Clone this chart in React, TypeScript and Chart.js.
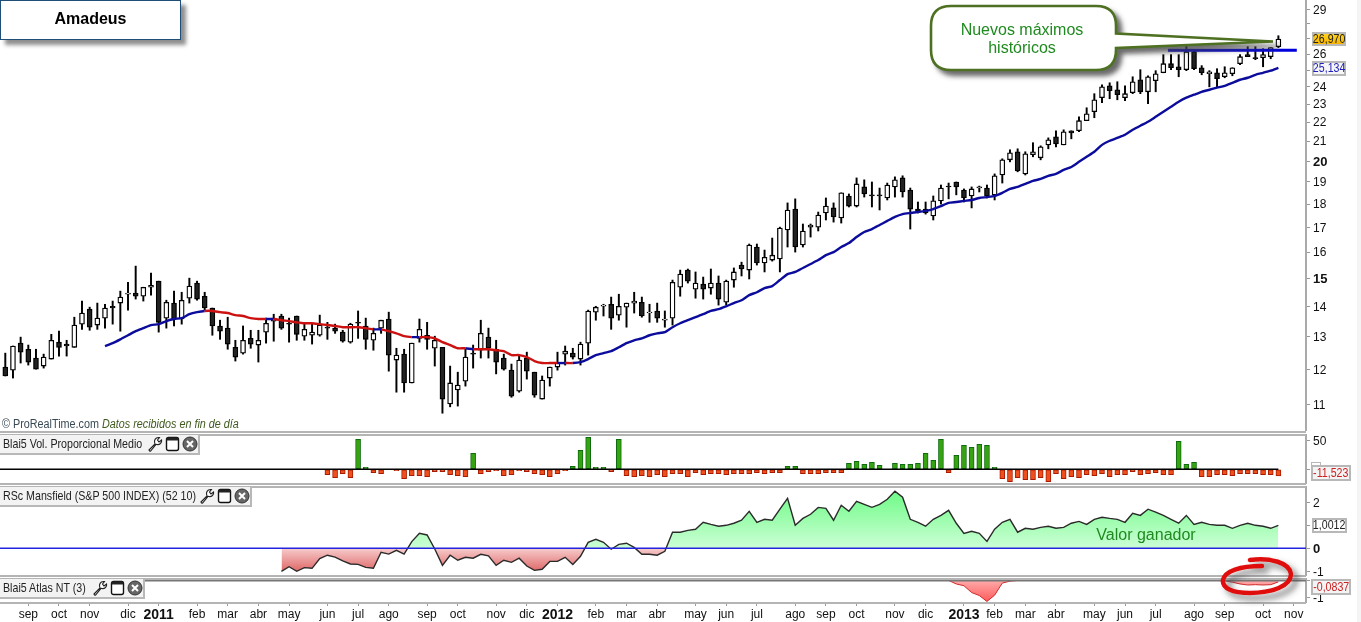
import React, { useEffect, useRef } from "react";
import { Chart, registerables } from "chart.js";

Chart.register(...registerables);

const opens = [12.07,11.98,12.80,12.61,12.34,12.10,12.31,12.83,12.77,12.67,13.41,13.91,13.38,13.61,14.01,14.12,14.43,14.47,14.36,14.68,14.90,13.61,14.12,13.58,14.29,14.83,14.36,13.95,13.35,13.28,12.67,12.49,12.95,12.74,13.15,13.51,13.68,13.44,13.68,13.02,13.05,13.05,13.31,13.28,13.15,12.83,13.47,13.35,12.89,13.28,13.58,12.28,12.46,11.61,12.95,13.05,12.64,12.67,11.03,11.41,11.66,12.49,12.58,12.99,12.61,12.34,11.98,11.38,12.34,11.92,11.16,11.75,12.07,12.46,12.49,12.31,12.80,13.81,14.01,14.08,13.71,13.98,14.12,14.15,13.78,13.85,13.54,13.61,14.68,15.31,14.61,14.79,14.65,14.83,14.15,14.94,15.50,15.31,16.20,15.58,15.69,15.73,16.89,17.78,16.28,17.01,17.01,17.61,17.83,17.40,18.36,17.91,18.77,18.41,18.41,18.27,18.77,19.19,18.63,17.78,17.78,17.48,18.14,18.81,19.00,18.63,18.36,18.72,18.72,18.41,19.33,20.06,20.46,19.38,20.31,20.16,20.81,21.22,20.81,21.54,21.54,22.08,22.57,23.36,24.05,23.82,23.36,23.65,24.41,23.70,24.35,24.83,25.39,25.20,25.02,26.15,25.14,24.77,24.83,24.59,24.77,25.39,25.96,25.77,25.77,25.83,26.47];
const closes = [11.81,12.71,12.52,12.22,12.01,12.37,12.89,12.67,12.71,13.38,13.78,13.31,13.61,13.95,13.95,14.33,14.47,14.36,14.68,14.75,13.47,14.15,13.58,14.22,14.72,14.26,13.95,13.35,13.18,12.77,12.37,12.89,12.77,12.89,13.44,13.61,13.28,13.41,13.08,13.24,13.15,13.38,13.28,13.18,12.86,13.41,13.44,12.92,13.11,13.54,12.43,12.43,11.61,12.80,13.24,12.92,12.89,11.16,11.61,11.55,12.37,12.46,13.11,12.64,12.22,12.01,11.24,12.28,11.95,11.27,11.69,12.07,12.19,12.55,12.37,12.77,13.85,13.98,14.05,13.61,14.01,14.12,14.19,13.68,13.81,13.61,13.58,14.86,15.16,14.90,14.83,14.61,14.83,14.26,14.90,15.24,15.35,16.28,15.58,15.80,15.88,16.97,17.74,16.20,16.85,17.10,17.52,17.91,17.44,18.50,17.91,18.91,18.45,18.36,18.36,18.86,19.10,18.54,17.78,17.70,17.61,18.14,18.72,18.77,18.77,18.27,18.68,18.77,18.36,19.29,20.06,20.41,19.52,20.36,20.46,20.71,21.07,20.86,21.49,21.43,22.08,22.46,23.24,23.99,23.76,23.53,23.59,24.29,23.70,24.59,24.77,25.39,25.14,25.02,26.15,25.08,24.83,24.89,24.47,24.83,25.14,25.83,25.83,25.70,25.96,26.41,26.97];
const highs = [12.49,12.71,12.99,12.74,12.61,12.46,13.08,13.18,12.89,13.64,14.19,13.98,14.12,14.08,14.19,14.54,14.86,15.46,14.68,15.20,14.90,14.22,14.54,14.50,15.01,14.90,14.50,13.95,13.54,13.64,12.89,13.35,13.21,13.21,13.61,13.74,13.74,13.61,13.68,13.44,13.41,13.71,13.47,13.41,13.21,13.44,13.85,13.61,13.28,13.54,13.81,12.64,12.61,12.80,13.58,13.47,13.02,12.67,12.10,11.92,12.61,12.74,13.54,13.28,12.89,12.46,12.16,12.40,12.52,11.92,11.81,12.07,12.52,12.71,12.64,12.83,13.88,14.01,14.08,14.33,14.43,14.12,14.50,14.33,14.08,14.12,13.85,14.94,15.31,15.35,15.24,15.05,15.35,15.09,14.94,15.39,15.61,16.32,16.32,16.08,16.56,17.01,18.05,18.23,17.14,17.14,17.65,18.27,18.05,18.50,18.45,19.19,19.10,19.00,18.72,18.95,19.24,19.29,18.72,18.09,18.09,18.36,18.86,18.95,19.00,18.68,18.77,18.81,18.86,19.38,20.11,20.56,20.61,20.46,20.92,20.76,21.17,21.54,21.59,21.54,22.29,22.79,23.59,24.11,24.23,24.29,24.05,24.59,25.02,24.65,24.96,25.96,25.96,25.96,26.67,26.28,25.27,24.96,25.08,25.20,25.14,25.96,26.47,26.47,26.34,26.41,27.19];
const lows = [11.81,11.75,12.19,12.13,12.01,12.04,12.31,12.40,12.40,12.67,13.24,13.21,13.24,13.28,13.41,13.18,13.88,14.26,14.19,14.40,13.15,13.28,13.35,13.41,14.12,14.22,13.88,13.05,12.92,12.61,12.25,12.46,12.64,12.22,12.80,12.86,13.24,12.83,12.89,12.89,12.77,13.02,12.92,13.11,12.83,12.80,12.95,12.61,12.58,13.11,11.95,11.35,11.35,11.61,12.83,12.61,12.10,10.78,10.95,10.97,11.52,12.04,12.34,12.34,11.87,11.98,11.21,11.35,11.72,11.21,11.16,11.52,11.98,12.13,12.31,12.13,12.43,13.54,13.68,13.24,13.54,13.31,13.78,13.64,13.47,13.47,13.31,13.38,14.36,14.83,14.29,14.26,14.43,14.05,14.05,14.68,15.09,14.98,15.50,15.24,15.65,15.24,16.20,16.00,16.20,16.60,16.85,17.31,17.22,17.18,17.87,17.87,18.31,17.87,17.74,18.18,18.31,18.31,16.93,17.61,17.56,17.31,18.00,18.23,18.41,18.09,17.83,18.54,18.27,18.18,18.95,19.96,19.48,19.33,20.21,20.06,20.61,20.71,20.81,21.12,21.49,22.08,22.24,23.07,23.30,23.24,23.19,23.59,23.59,23.02,23.70,24.83,25.02,24.59,24.96,25.02,24.71,23.99,23.94,24.53,24.65,25.33,25.83,25.64,25.20,25.70,26.41];

const maStart = 13;
const maValues = [12.71,12.80,12.92,13.05,13.18,13.28,13.38,13.41,13.51,13.58,13.61,13.74,13.81,13.85,13.85,13.81,13.78,13.71,13.68,13.61,13.58,13.58,13.58,13.54,13.51,13.47,13.44,13.44,13.41,13.38,13.35,13.31,13.31,13.31,13.28,13.24,13.24,13.18,13.11,13.02,12.99,12.99,12.99,12.95,12.83,12.74,12.64,12.64,12.61,12.61,12.61,12.58,12.55,12.43,12.43,12.37,12.25,12.19,12.19,12.19,12.19,12.19,12.22,12.31,12.43,12.49,12.55,12.67,12.80,12.89,12.95,13.05,13.11,13.15,13.31,13.44,13.54,13.64,13.74,13.85,13.91,14.01,14.12,14.22,14.40,14.50,14.65,14.72,14.94,15.16,15.24,15.39,15.54,15.69,15.88,16.00,16.20,16.36,16.60,16.81,16.93,17.10,17.27,17.44,17.56,17.61,17.65,17.70,17.78,17.91,18.05,18.09,18.14,18.18,18.27,18.31,18.36,18.50,18.68,18.77,18.91,19.05,19.14,19.29,19.38,19.57,19.71,19.96,20.21,20.46,20.81,21.02,21.17,21.33,21.59,21.81,22.02,22.29,22.57,22.85,23.13,23.36,23.53,23.70,23.82,23.94,24.05,24.23,24.41,24.53,24.71,24.83,24.96,25.134];
const maRedRanges = [[26, 33], [35, 47], [49, 52], [54, 59], [61, 71], [73, 73]];

const resistancePrice = 26.24;
const resistanceFrom = 151.6;
const resistanceTo = 168.4;

const volStart = 42;
const volValues = [-9.4,-14.7,-7.6,-14.7,52.9,3.5,-5.9,-7.6,0,-2.4,-16.5,-11.2,-11.2,-12.9,-4.1,-4.1,-9.4,-11.2,-12.9,28.2,-7.6,-4.1,-2.4,-11.2,-9.4,-2.4,-4.1,-7.6,-9.4,-12.9,-7.6,-2.4,5.3,33.5,56.4,3.5,3.5,-4.1,52.9,-11.2,-12.9,-11.2,-12.9,-9.4,-12.9,-7.6,-7.6,-12.9,-5.9,-9.4,-7.6,-7.6,-9.4,-7.6,-7.6,-7.6,-5.9,-7.6,-5.9,-5.9,5.3,5.3,-7.6,-7.6,-7.6,-5.9,-5.9,-5.9,10.6,14.1,8.8,12.3,7.1,0,10.6,8.8,8.8,10.6,28.2,15.9,52.9,-5.9,24.7,42.3,38.8,44.1,42.3,3.5,-16.5,-21.8,-14.7,-18.2,-18.2,-14.7,-21.8,-7.6,-16.5,-12.9,-14.7,-9.4,-11.2,-7.6,-12.9,-9.4,-9.4,-4.1,-9.4,-7.6,-5.9,-9.4,-9.4,49.4,8.8,12.3,-12.9,-12.9,-9.4,-9.4,-11.2,-7.6,-7.6,-7.6,-9.4,-9.4,-11.52];

const rscStart = 36;
const rscValues = [-1.0,-0.80,-1.0,-0.84,-0.87,-0.45,-0.30,-0.38,-0.55,-0.68,-0.70,-0.83,-0.87,-0.17,-0.25,-0.09,-0.25,0.29,0.65,0.58,-0.03,-0.74,-0.30,-0.52,-0.39,-0.43,-0.26,-0.33,-0.74,-0.52,-0.61,-0.43,-0.77,-0.96,-0.91,-0.57,-0.57,-0.39,-0.70,-0.35,0.26,0.39,0.26,-0.04,0.17,0.22,0.04,-0.26,-0.26,-0.30,-0.13,0.70,0.70,0.78,0.83,1.13,1.04,0.96,1.00,1.09,1.22,1.61,1.13,1.26,1.22,1.70,2.17,1.00,1.30,1.48,1.78,1.74,1.22,1.87,1.61,2.04,1.91,1.78,1.91,2.13,2.48,2.22,1.26,1.13,0.96,1.26,1.43,1.65,1.09,0.65,0.74,0.65,0.30,0.83,1.13,1.26,0.70,0.87,0.83,0.91,0.96,0.87,0.91,1.09,1.17,1.04,1.26,1.35,1.30,1.26,1.13,1.52,1.43,1.70,1.57,1.43,1.26,1.09,1.43,1.04,1.13,1.04,1.00,1.00,0.87,1.00,1.09,1.00,0.96,0.87,1.00];

const atlasIdx = [123,124,125,126,127,128,129,130,131,132,140,158,159,160,161,162,163,164,165,166];
const atlasValues = [0,-0.2,-0.3,-0.69,-0.86,-1.2,-0.84,-0.15,-0.04,0,null,0,-0.02,-0.1,-0.2,-0.26,-0.24,-0.26,-0.24,-0.0837];

const monthIdx = [3,7,11,16,20,25,29,33,37,42,46,50,55,59,64,68,72,77,81,85,90,94,98,103,107,111,116,120,125,129,133,137,142,146,150,155,159,164,168];
const monthLabels = ["sep","oct","nov","dic","2011","feb","mar","abr","may","jun","jul","ago","sep","oct","nov","dic","2012","feb","mar","abr","may","jun","jul","ago","sep","oct","nov","dic","2013","feb","mar","abr","may","jun","jul","ago","sep","oct","nov"];

const priceTicks = [29,28,27,26,25,24,23,22,21,20,19,18,17,16,15,14,13,12,11];
const hiddenPriceTicks = [28,27,25];
const boldPriceTicks = [15,20];

const X_MIN = -0.691;
const X_MAX = 169.6;
const FONT = "'Liberation Sans', Arial, sans-serif";
const AXIS_GRAY = "#aaaaaa";

function xAxis(show: boolean) {
  return {
    type: "linear",
    display: show,
    bounds: "data",
    offset: false,
    min: X_MIN,
    max: X_MAX,
    afterBuildTicks: (s: any) => { s.ticks = monthIdx.map((value) => ({ value })); },
    afterFit: (s: any) => { s.paddingLeft = 0; s.paddingRight = 0; if (show) s.height = 20; },
    grid: { display: true, offset: false, drawOnChartArea: false, tickLength: 4, tickColor: "#999999" },
    border: { display: false },
    ticks: {
      autoSkip: false,
      maxRotation: 0,
      minRotation: 0,
      padding: 1,
      color: "#111111",
      font: (ctx: any) => {
        const year = ctx.index !== undefined && /^20/.test(monthLabels[ctx.index] || "");
        return { family: FONT, size: year ? 14 : 12, weight: year ? "bold" : "normal" };
      },
      callback: (_v: any, i: number) => monthLabels[i],
    },
  };
}

function nudgeLabels(s: any) {
  if (s.__nudged) return;
  s.__nudged = true;
  const orig = s._computeLabelItems.bind(s);
  s._computeLabelItems = (area: any) => {
    const items = orig(area);
    items.forEach((it: any) => {
      const t = it.options.translation;
      it.options.translation = [t[0], t[1] + 1];
    });
    return items;
  };
}

function yAxis(extra: any, ticksList: number[], label: (v: number) => string, bold: number[] = []) {
  return {
    position: "right",
    bounds: "data",
    beforeUpdate: nudgeLabels,
    afterBuildTicks: (s: any) => { s.ticks = ticksList.map((value) => ({ value })); },
    afterFit: (s: any) => { s.width = 55; s.paddingTop = 0; s.paddingBottom = 0; },
    grid: { display: true, drawOnChartArea: false, tickLength: 4, tickColor: "#999999" },
    border: { display: true, color: AXIS_GRAY, width: 2 },
    ticks: {
      autoSkip: false,
      padding: 3,
      color: "#111111",
      font: (ctx: any) => {
        const b = ctx.tick && bold.includes(ctx.tick.value);
        return { family: FONT, size: b ? 13 : 12, weight: b ? "bold" : "normal" };
      },
      callback: (v: any) => label(Number(v)),
    },
    ...extra,
  };
}

const baseOptions = (scales: any) => ({
  responsive: false,
  animation: false,
  devicePixelRatio: 1,
  layout: { padding: 0 },
  events: [],
  plugins: { legend: { display: false }, tooltip: { enabled: false } },
  scales,
});

function Wrench({ x }: { x: number }) {
  return (
    <svg style={{ position: "absolute", left: x, top: 1, width: 16, height: 16 }} viewBox="0 0 16 16">
      <path d="M2 14 L8 8 Q6.5 4 9.5 2 Q11 1.2 12.5 1.6 L10.5 4 L12 6 L14.6 4 Q15 6 13.5 7.5 Q11.5 9.3 9 8.3 L3.6 15 Q2.5 15.6 2 14 Z" fill="#ffffff" stroke="#222222" strokeWidth="1.1" />
    </svg>
  );
}
function WindowIcon({ x }: { x: number }) {
  return (
    <svg style={{ position: "absolute", left: x, top: 1, width: 15, height: 16 }} viewBox="0 0 15 16">
      <rect x="1.5" y="1.5" width="12" height="13" rx="2" fill="#ffffff" stroke="#111111" strokeWidth="1.4" />
      <rect x="1.5" y="1.5" width="12" height="3" rx="1" fill="#222222" />
    </svg>
  );
}
function CloseIcon({ x }: { x: number }) {
  return (
    <svg style={{ position: "absolute", left: x, top: 1, width: 16, height: 16 }} viewBox="0 0 16 16">
      <circle cx="8" cy="8" r="7" fill="#666666" stroke="#333333" />
      <path d="M5 5 L11 11 M11 5 L5 11" stroke="#ffffff" strokeWidth="2" />
    </svg>
  );
}

function PanelTag({ top, width, text, icons }: { top: number; width: number; text: string; icons: number[] }) {
  return (
    <div style={{ position: "absolute", left: 0, top, width, height: 18, background: "#f3f3f3", borderRight: "2px solid #b8b8b8", borderBottom: "2px solid #b8b8b8", boxSizing: "content-box" }}>
      <span style={{ position: "absolute", left: 3, top: 1, font: `13px ${FONT}`, color: "#222", whiteSpace: "nowrap", transform: "scaleX(0.82)", transformOrigin: "left center" }}>{text}</span>
      <Wrench x={icons[0]} />
      <WindowIcon x={icons[1]} />
      <CloseIcon x={icons[2]} />
    </div>
  );
}

function ValueBox({ left, top, width, height, color, bg, text }: any) {
  return (
    <div style={{ position: "absolute", left, top, width, height, background: bg, border: "2px solid #b8b8b8", boxSizing: "border-box", color, font: `12.5px ${FONT}`, lineHeight: `${height - 4}px`, textAlign: "center", whiteSpace: "nowrap" }}>
      <span style={{ display: "inline-block", transform: "scaleX(0.85)", marginLeft: -6, marginRight: -6 }}>{text}</span>
    </div>
  );
}

function Line({ top, color = "#b4b4b4", h = 2 }: { top: number; color?: string; h?: number }) {
  return <div style={{ position: "absolute", left: 0, top, width: 1306, height: h, background: color }} />;
}

export default function App() {
  const mainRef = useRef<HTMLCanvasElement>(null);
  const volRef = useRef<HTMLCanvasElement>(null);
  const rscRef = useRef<HTMLCanvasElement>(null);
  const atlasRef = useRef<HTMLCanvasElement>(null);

  useEffect(() => {
    const idx = opens.map((_, i) => i);
    const isRed = (i: number) => maRedRanges.some(([a, b]) => i >= a && i <= b);

    const main = new Chart(mainRef.current as any, {
      type: "bar",
      data: {
        datasets: [
          {
            type: "line",
            data: [{ x: resistanceFrom, y: resistancePrice }, { x: resistanceTo, y: resistancePrice }],
            borderColor: "#0000dd",
            borderWidth: 3,
            pointRadius: 0,
            order: 0,
          },
          {
            type: "line",
            data: maValues.map((y, i) => ({ x: i + maStart, y })),
            borderColor: "#0c0c9c",
            borderWidth: 2.4,
            pointRadius: 0,
            tension: 0.2,
            segment: {
              borderColor: (ctx: any) => (isRed(ctx.p0DataIndex + maStart) ? "#cc1111" : "#0c0c9c"),
            },
            order: 1,
          },
          {
            type: "bar",
            data: idx.map((i) => ({ x: i, y: [opens[i], closes[i]] })),
            barThickness: 5,
            grouped: false,
            borderWidth: 1.3,
            borderSkipped: false,
            borderColor: "#000000",
            backgroundColor: idx.map((i) => (closes[i] >= opens[i] ? "#ffffff" : "#222222")),
            order: 2,
          },
          {
            type: "bar",
            data: idx.map((i) => ({ x: i, y: [lows[i], highs[i]] })),
            barThickness: 1.3,
            grouped: false,
            borderWidth: 0,
            backgroundColor: "#000000",
            order: 3,
          },
        ],
      } as any,
      options: baseOptions({
        x: xAxis(false),
        y: yAxis(
          { type: "logarithmic", min: 10.32, max: 29.68 },
          priceTicks,
          (v) => (hiddenPriceTicks.includes(v) ? "" : String(v)),
          boldPriceTicks
        ),
      }) as any,
    });

    const vol = new Chart(volRef.current as any, {
      type: "bar",
      data: {
        datasets: [
          {
            type: "line",
            data: [{ x: X_MIN, y: 0 }, { x: 166, y: 0 }],
            borderColor: "#000000",
            borderWidth: 1.5,
            pointRadius: 0,
            order: 0,
          },
          {
            type: "bar",
            data: volValues.map((y, i) => ({ x: i + volStart, y: y === 0 ? null : y })),
            barThickness: 5,
            grouped: false,
            borderWidth: 1,
            borderSkipped: false,
            borderColor: volValues.map((v) => (v >= 0 ? "#0e6b0e" : "#a81a00")),
            backgroundColor: volValues.map((v) => (v >= 0 ? "#37a312" : "#ee4f1c")),
            order: 1,
          },
        ],
      } as any,
      options: baseOptions({
        x: xAxis(false),
        y: yAxis({ type: "linear", min: -25.9, max: 62.3 }, [50, 0], (v) => (v === 50 ? "50" : "")),
      }) as any,
    });

    const rctx = (rscRef.current as any).getContext("2d");
    const greenGrad = rctx.createLinearGradient(0, 11, 0, 62.3);
    greenGrad.addColorStop(0, "#78fb8e");
    greenGrad.addColorStop(1, "#ccffd6");
    const redGrad = rctx.createLinearGradient(0, 62.3, 0, 86);
    redGrad.addColorStop(0, "#f6cccc");
    redGrad.addColorStop(1, "#df6464");

    const rsc = new Chart(rscRef.current as any, {
      type: "line",
      data: {
        datasets: [
          {
            data: [{ x: X_MIN, y: 0 }, { x: X_MAX, y: 0 }],
            borderColor: "#2424e0",
            borderWidth: 1.5,
            pointRadius: 0,
            order: 0,
          },
          {
            data: rscValues.map((y, i) => ({ x: i + rscStart, y })),
            borderColor: "#2a2a2a",
            borderWidth: 1.4,
            pointRadius: 0,
            fill: { target: { value: 0 }, above: greenGrad, below: redGrad },
            order: 1,
          },
        ],
      } as any,
      options: baseOptions({
        x: xAxis(false),
        y: yAxis({ type: "linear", min: -1.204, max: 2.709 }, [2, 1, 0, -1], (v) => String(v), [0]),
      }) as any,
    });

    const actx = (atlasRef.current as any).getContext("2d");
    const dipGrad = actx.createLinearGradient(0, 3, 0, 24);
    dipGrad.addColorStop(0, "#ffa8a8");
    dipGrad.addColorStop(1, "#ff5a5a");

    const atlas = new Chart(atlasRef.current as any, {
      type: "line",
      data: {
        datasets: [
          {
            data: [{ x: X_MIN, y: 0 }, { x: X_MAX, y: 0 }],
            borderColor: "#777777",
            borderWidth: 2,
            pointRadius: 0,
            order: 0,
          },
          {
            data: atlasIdx.map((x, i) => ({ x, y: atlasValues[i] })),
            borderColor: "#cc2a2a",
            borderWidth: 1,
            pointRadius: 0,
            spanGaps: false,
            fill: { target: { value: 0 }, above: dipGrad, below: dipGrad },
            order: 1,
          },
        ],
      } as any,
      options: baseOptions({
        x: xAxis(true),
        y: yAxis({ type: "linear", min: -1.23, max: 0.14 }, [0, -1], (v) => (v === -1 ? "-1" : "")),
      }) as any,
    });

    return () => {
      main.destroy();
      vol.destroy();
      rsc.destroy();
      atlas.destroy();
    };
  }, []);

  const abs = (top: number, height: number): React.CSSProperties => ({ position: "absolute", left: 0, top, width: 1361, height, display: "block" });

  return (
    <div style={{ position: "fixed", left: 0, top: 0, width: 1361, height: 622, overflow: "hidden", background: "#ffffff", fontFamily: FONT }}>
      <canvas ref={mainRef} width={1361} height={431} style={abs(0, 431)} />
      <canvas ref={volRef} width={1361} height={50} style={abs(434, 50)} />
      <canvas ref={rscRef} width={1361} height={90} style={abs(486, 90)} />
      <canvas ref={atlasRef} width={1361} height={44} style={abs(578, 44)} />

      <Line top={431} />
      <Line top={434} />
      <Line top={483} />
      <Line top={486} />
      <Line top={575} />
      <Line top={578} />
      <Line top={602} />

      <div style={{ position: "absolute", left: 1357, top: 0, width: 4, height: 622, background: "#f4f4f4" }} />

      <div style={{ position: "absolute", left: 0, top: 0, width: 181, height: 40, boxSizing: "border-box", background: "#fff", border: "1.5px solid #1f4e79", boxShadow: "5px 5px 4px #8f8f8f", textAlign: "center", font: `bold 16px ${FONT}`, lineHeight: "35px", color: "#000" }}>Amadeus</div>

      <div style={{ position: "absolute", left: 2, top: 417, font: `12px ${FONT}`, color: "#3a4a55", whiteSpace: "nowrap", transform: "scaleX(0.9)", transformOrigin: "left center" }}>
        © ProRealTime.com&nbsp;<span style={{ fontStyle: "italic", color: "#3f5a1e" }}>Datos recibidos en fin de día</span>
      </div>

      <PanelTag top={435} width={198} text="Blai5 Vol. Proporcional Medio" icons={[147, 165, 182]} />
      <PanelTag top={487} width={250} text="RSc Mansfield (S&P 500 INDEX) (52 10)" icons={[199, 217, 234]} />
      <PanelTag top={579} width={143} text="Blai5 Atlas NT (3)" icons={[92, 110, 127]} />

      <svg style={{ position: "absolute", left: 0, top: 0, width: 1361, height: 622, pointerEvents: "none" }} viewBox="0 0 1361 622">
        <defs>
          <filter id="sh" x="-10%" y="-20%" width="125%" height="150%">
            <feDropShadow dx="5" dy="5" stdDeviation="2.5" floodColor="#444444" floodOpacity="0.8" />
          </filter>
          <filter id="sh2" x="-20%" y="-30%" width="150%" height="170%">
            <feDropShadow dx="5" dy="5" stdDeviation="3" floodColor="#444444" floodOpacity="0.7" />
          </filter>
        </defs>
        <path d="M951 6 H1096 Q1116 6 1116 26 V33.5 L1273 41.5 L1116 48 V50 Q1116 70 1096 70 H951 Q931 70 931 50 V26 Q931 6 951 6 Z" fill="#ffffff" stroke="#4e7020" strokeWidth="2.6" filter="url(#sh)" />
        <text x="1022" y="35" textAnchor="middle" fontFamily="Liberation Sans" fontSize="16" fill="#1f8a1f">Nuevos máximos</text>
        <text x="1022" y="53" textAnchor="middle" fontFamily="Liberation Sans" fontSize="16" fill="#1f8a1f">históricos</text>
        <text x="1146" y="540" textAnchor="middle" fontFamily="Liberation Sans" fontSize="16" fill="#1f8a1f">Valor ganador</text>
        <path d="M1250 560 C1270 557 1290 563 1291 574 C1291 586 1272 593 1250 593 C1232 593 1222 588 1223 580 C1225 571 1240 566 1262 566" fill="none" stroke="#e01010" strokeWidth="4.5" strokeLinecap="round" filter="url(#sh2)" />
      </svg>

      <div style={{ position: "absolute", left: 1311, top: 462, width: 8, height: 7, border: "1px solid #b8b8b8" }} />
      <ValueBox left={1312} top={32} width={34} height={14} color="#222" bg="linear-gradient(#ffd21c,#f7b500)" text="26,970" />
      <ValueBox left={1312} top={61} width={34} height={15} color="#2222bb" bg="#f6f6f6" text="25,134" />
      <ValueBox left={1311} top={465} width={40} height={16} color="#cc2020" bg="#f4f4f4" text="-11,523" />
      <ValueBox left={1312} top={518} width={35} height={15} color="#222" bg="#ffffff" text="1,0012" />
      <ValueBox left={1311} top={579} width={40} height={16} color="#cc2020" bg="#f4f4f4" text="-0,0837" />
    </div>
  );
}
